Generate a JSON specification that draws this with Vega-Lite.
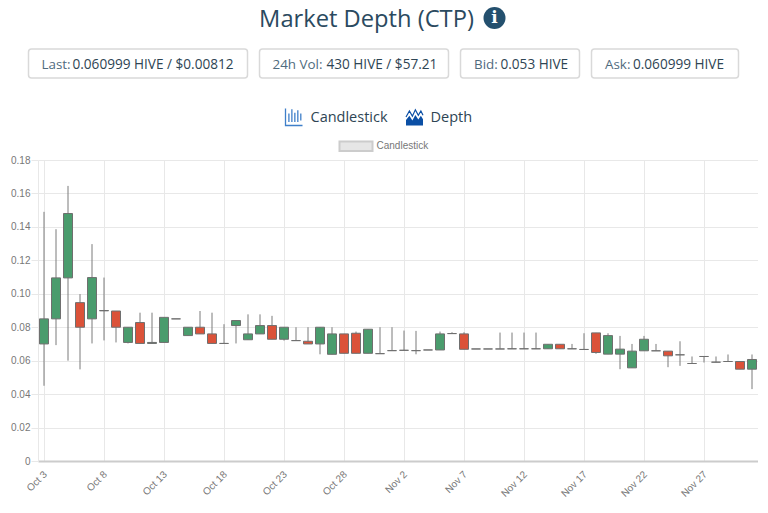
{"$schema":"https://vega.github.io/schema/vega-lite/v6.json","padding":0,"background":"white","spacing":0,"config":{"view":{"stroke":null},"concat":{"spacing":0},"font":"Open Sans"},"vconcat":[{"width":720,"height":155,"layer":[
{"data":{"values":[{"t":"Market Depth (CTP)"}]},"mark":{"type":"text","font":"Open Sans","fontSize":23.7,"fill":"#2b4a60","align":"center","baseline":"middle"},"encoding":{"x":{"datum":366,"type":"quantitative","axis":null,"scale":{"domain":[37.5,757.5]}},"y":{"datum":20,"type":"quantitative","axis":null,"scale":{"domain":[155,0]}},"text":{"field":"t"}}},
{"data":{"values":[{"t":"i"}]},"mark":{"type":"point","filled":true,"size":484,"fill":"#24506e","opacity":1},"encoding":{"x":{"datum":494,"type":"quantitative","axis":null,"scale":{"domain":[37.5,757.5]}},"y":{"datum":18,"type":"quantitative","axis":null,"scale":{"domain":[155,0]}}}},
{"data":{"values":[{"t":"i"}]},"mark":{"type":"text","font":"DejaVu Serif","fontWeight":"bold","fontSize":17,"fill":"white","align":"center","baseline":"middle"},"encoding":{"x":{"datum":494,"type":"quantitative","axis":null,"scale":{"domain":[37.5,757.5]}},"y":{"datum":18,"type":"quantitative","axis":null,"scale":{"domain":[155,0]}},"text":{"field":"t"}}},
{"data":{"values":[{"b":"Last"}]},"mark":{"type":"rect","fill":"white","stroke":"#d9d9d9","strokeWidth":1.5,"cornerRadius":3},"encoding":{"x":{"datum":28,"type":"quantitative","axis":null,"scale":{"domain":[37.5,757.5]}},"x2":{"datum":247},"y":{"datum":49,"type":"quantitative","axis":null,"scale":{"domain":[155,0]}},"y2":{"datum":78}}},
{"data":{"values":[{"b":"24h Vol"}]},"mark":{"type":"rect","fill":"white","stroke":"#d9d9d9","strokeWidth":1.5,"cornerRadius":3},"encoding":{"x":{"datum":259,"type":"quantitative","axis":null,"scale":{"domain":[37.5,757.5]}},"x2":{"datum":448},"y":{"datum":49,"type":"quantitative","axis":null,"scale":{"domain":[155,0]}},"y2":{"datum":78}}},
{"data":{"values":[{"b":"Bid"}]},"mark":{"type":"rect","fill":"white","stroke":"#d9d9d9","strokeWidth":1.5,"cornerRadius":3},"encoding":{"x":{"datum":460,"type":"quantitative","axis":null,"scale":{"domain":[37.5,757.5]}},"x2":{"datum":579},"y":{"datum":49,"type":"quantitative","axis":null,"scale":{"domain":[155,0]}},"y2":{"datum":78}}},
{"data":{"values":[{"b":"Ask"}]},"mark":{"type":"rect","fill":"white","stroke":"#d9d9d9","strokeWidth":1.5,"cornerRadius":3},"encoding":{"x":{"datum":591,"type":"quantitative","axis":null,"scale":{"domain":[37.5,757.5]}},"x2":{"datum":738},"y":{"datum":49,"type":"quantitative","axis":null,"scale":{"domain":[155,0]}},"y2":{"datum":78}}},
{"data":{"values":[{"t":"Last:"}]},"mark":{"type":"text","font":"Open Sans","fontSize":13.4,"fill":"#4f6b7e","align":"left","baseline":"middle"},"encoding":{"x":{"datum":41,"type":"quantitative","axis":null,"scale":{"domain":[37.5,757.5]}},"y":{"datum":64.5,"type":"quantitative","axis":null,"scale":{"domain":[155,0]}},"text":{"field":"t"}}},
{"data":{"values":[{"t":"0.060999 HIVE / $0.00812"}]},"mark":{"type":"text","font":"Open Sans","fontSize":13.6,"fill":"#2e4554","align":"left","baseline":"middle"},"encoding":{"x":{"datum":72,"type":"quantitative","axis":null,"scale":{"domain":[37.5,757.5]}},"y":{"datum":64.5,"type":"quantitative","axis":null,"scale":{"domain":[155,0]}},"text":{"field":"t"}}},
{"data":{"values":[{"t":"24h Vol:"}]},"mark":{"type":"text","font":"Open Sans","fontSize":13.4,"fill":"#4f6b7e","align":"left","baseline":"middle"},"encoding":{"x":{"datum":272,"type":"quantitative","axis":null,"scale":{"domain":[37.5,757.5]}},"y":{"datum":64.5,"type":"quantitative","axis":null,"scale":{"domain":[155,0]}},"text":{"field":"t"}}},
{"data":{"values":[{"t":"430 HIVE / $57.21"}]},"mark":{"type":"text","font":"Open Sans","fontSize":13.6,"fill":"#2e4554","align":"left","baseline":"middle"},"encoding":{"x":{"datum":326,"type":"quantitative","axis":null,"scale":{"domain":[37.5,757.5]}},"y":{"datum":64.5,"type":"quantitative","axis":null,"scale":{"domain":[155,0]}},"text":{"field":"t"}}},
{"data":{"values":[{"t":"Bid:"}]},"mark":{"type":"text","font":"Open Sans","fontSize":13.4,"fill":"#4f6b7e","align":"left","baseline":"middle"},"encoding":{"x":{"datum":473.5,"type":"quantitative","axis":null,"scale":{"domain":[37.5,757.5]}},"y":{"datum":64.5,"type":"quantitative","axis":null,"scale":{"domain":[155,0]}},"text":{"field":"t"}}},
{"data":{"values":[{"t":"0.053 HIVE"}]},"mark":{"type":"text","font":"Open Sans","fontSize":13.6,"fill":"#2e4554","align":"left","baseline":"middle"},"encoding":{"x":{"datum":500,"type":"quantitative","axis":null,"scale":{"domain":[37.5,757.5]}},"y":{"datum":64.5,"type":"quantitative","axis":null,"scale":{"domain":[155,0]}},"text":{"field":"t"}}},
{"data":{"values":[{"t":"Ask:"}]},"mark":{"type":"text","font":"Open Sans","fontSize":13.4,"fill":"#4f6b7e","align":"left","baseline":"middle"},"encoding":{"x":{"datum":604.5,"type":"quantitative","axis":null,"scale":{"domain":[37.5,757.5]}},"y":{"datum":64.5,"type":"quantitative","axis":null,"scale":{"domain":[155,0]}},"text":{"field":"t"}}},
{"data":{"values":[{"t":"0.060999 HIVE"}]},"mark":{"type":"text","font":"Open Sans","fontSize":13.6,"fill":"#2e4554","align":"left","baseline":"middle"},"encoding":{"x":{"datum":632.5,"type":"quantitative","axis":null,"scale":{"domain":[37.5,757.5]}},"y":{"datum":64.5,"type":"quantitative","axis":null,"scale":{"domain":[155,0]}},"text":{"field":"t"}}},
{"data":{"values":[{"t":"Candlestick"}]},"mark":{"type":"text","font":"Open Sans","fontSize":14.5,"fill":"#2e4554","align":"left","baseline":"middle"},"encoding":{"x":{"datum":310,"type":"quantitative","axis":null,"scale":{"domain":[37.5,757.5]}},"y":{"datum":118,"type":"quantitative","axis":null,"scale":{"domain":[155,0]}},"text":{"field":"t"}}},
{"data":{"values":[{"t":"Depth"}]},"mark":{"type":"text","font":"Open Sans","fontSize":14.5,"fill":"#2e4554","align":"left","baseline":"middle"},"encoding":{"x":{"datum":430,"type":"quantitative","axis":null,"scale":{"domain":[37.5,757.5]}},"y":{"datum":118,"type":"quantitative","axis":null,"scale":{"domain":[155,0]}},"text":{"field":"t"}}},
{"data":{"values":[{"t":"Candlestick"}]},"mark":{"type":"point","shape":"M-1 -1V1H1M-0.6 -0.4V0.6M-0.25 -0.9V0.6M0.1 -0.5V0.6M0.45 -0.8V0.6M0.8 -0.4V0.4","size":289,"filled":false,"fill":"transparent","stroke":"#3f7fc9","strokeWidth":1.3,"opacity":1},"encoding":{"x":{"datum":293.5,"type":"quantitative","axis":null,"scale":{"domain":[37.5,757.5]}},"y":{"datum":117,"type":"quantitative","axis":null,"scale":{"domain":[155,0]}}}},
{"data":{"values":[{"t":"Depth"}]},"mark":{"type":"point","shape":"M-1 1V0.35L-0.6-0.15L-0.25 0.4L0.1-0.25L0.45 0.3L0.75-0.15L1 0.25V1Z","size":289,"filled":true,"fill":"#0b4fa5","opacity":1},"encoding":{"x":{"datum":414,"type":"quantitative","axis":null,"scale":{"domain":[37.5,757.5]}},"y":{"datum":117,"type":"quantitative","axis":null,"scale":{"domain":[155,0]}}}},
{"data":{"values":[{"t":"Depth"}]},"mark":{"type":"point","shape":"M-1 0L-0.6-0.7L-0.25-0.1L0.1-0.85L0.45-0.2L0.75-0.7L1-0.2","size":289,"filled":false,"fill":"transparent","stroke":"#0b4fa5","strokeWidth":1.2,"opacity":1},"encoding":{"x":{"datum":414,"type":"quantitative","axis":null,"scale":{"domain":[37.5,757.5]}},"y":{"datum":117,"type":"quantitative","axis":null,"scale":{"domain":[155,0]}}}},
{"data":{"values":[{"t":"Candlestick"}]},"mark":{"type":"rect","fill":"#e6e6e6","stroke":"#cccccc","strokeWidth":2},"encoding":{"x":{"datum":339,"type":"quantitative","axis":null,"scale":{"domain":[37.5,757.5]}},"x2":{"datum":372},"y":{"datum":141.5,"type":"quantitative","axis":null,"scale":{"domain":[155,0]}},"y2":{"datum":151}}},
{"data":{"values":[{"t":"Candlestick"}]},"mark":{"type":"text","font":"Liberation Sans","fontSize":10,"fill":"#777777","align":"left","baseline":"middle"},"encoding":{"x":{"datum":376,"type":"quantitative","axis":null,"scale":{"domain":[37.5,757.5]}},"y":{"datum":145.5,"type":"quantitative","axis":null,"scale":{"domain":[155,0]}},"text":{"field":"t"}}}
]},
{"width":720,"height":301,"data":{"values":[
{"day":"Oct 3","dir":"up","open":0.07,"close":0.085,"high":0.149,"low":0.045},
{"day":"Oct 4","dir":"up","open":0.085,"close":0.1095,"high":0.1386,"low":0.0693},
{"day":"Oct 5","dir":"up","open":0.1095,"close":0.148,"high":0.1645,"low":0.06},
{"day":"Oct 6","dir":"down","open":0.0947,"close":0.08,"high":0.0998,"low":0.0548},
{"day":"Oct 7","dir":"up","open":0.085,"close":0.1097,"high":0.1297,"low":0.0703},
{"day":"Oct 8","dir":"flat","open":0.09,"close":0.0898,"high":0.1097,"low":0.0721},
{"day":"Oct 9","dir":"down","open":0.0897,"close":0.08,"high":0.0897,"low":0.0709},
{"day":"Oct 10","dir":"up","open":0.0709,"close":0.08,"high":0.08,"low":0.0703},
{"day":"Oct 11","dir":"down","open":0.0828,"close":0.0703,"high":0.0887,"low":0.0703},
{"day":"Oct 12","dir":"up","open":0.0703,"close":0.0709,"high":0.0887,"low":0.0703},
{"day":"Oct 13","dir":"up","open":0.0709,"close":0.0859,"high":0.0859,"low":0.0709},
{"day":"Oct 14","dir":"flat","open":0.085,"close":0.085,"high":0.085,"low":0.085},
{"day":"Oct 15","dir":"up","open":0.075,"close":0.08,"high":0.08,"low":0.075},
{"day":"Oct 16","dir":"down","open":0.08,"close":0.076,"high":0.0897,"low":0.076},
{"day":"Oct 17","dir":"down","open":0.076,"close":0.0703,"high":0.0887,"low":0.0703},
{"day":"Oct 18","dir":"flat","open":0.0703,"close":0.0703,"high":0.0818,"low":0.0703},
{"day":"Oct 19","dir":"up","open":0.081,"close":0.084,"high":0.084,"low":0.0703},
{"day":"Oct 20","dir":"up","open":0.0725,"close":0.076,"high":0.0877,"low":0.0725},
{"day":"Oct 21","dir":"up","open":0.076,"close":0.081,"high":0.0877,"low":0.076},
{"day":"Oct 22","dir":"down","open":0.081,"close":0.0728,"high":0.0868,"low":0.0728},
{"day":"Oct 23","dir":"up","open":0.0728,"close":0.08,"high":0.08,"low":0.072},
{"day":"Oct 24","dir":"flat","open":0.072,"close":0.072,"high":0.08,"low":0.072},
{"day":"Oct 25","dir":"down","open":0.0716,"close":0.07,"high":0.08,"low":0.07},
{"day":"Oct 26","dir":"up","open":0.07,"close":0.08,"high":0.08,"low":0.0638},
{"day":"Oct 27","dir":"up","open":0.0638,"close":0.076,"high":0.08,"low":0.0638},
{"day":"Oct 28","dir":"down","open":0.076,"close":0.0644,"high":0.076,"low":0.0644},
{"day":"Oct 29","dir":"down","open":0.0764,"close":0.0644,"high":0.0774,"low":0.0644},
{"day":"Oct 30","dir":"up","open":0.0644,"close":0.0788,"high":0.0788,"low":0.0644},
{"day":"Oct 31","dir":"flat","open":0.0642,"close":0.0642,"high":0.08,"low":0.0642},
{"day":"Nov 1","dir":"flat","open":0.066,"close":0.066,"high":0.08,"low":0.066},
{"day":"Nov 2","dir":"flat","open":0.0662,"close":0.0662,"high":0.078,"low":0.0662},
{"day":"Nov 3","dir":"flat","open":0.066,"close":0.066,"high":0.0778,"low":0.0638},
{"day":"Nov 4","dir":"flat","open":0.0664,"close":0.0664,"high":0.0664,"low":0.0664},
{"day":"Nov 5","dir":"up","open":0.0664,"close":0.076,"high":0.0774,"low":0.0664},
{"day":"Nov 6","dir":"flat","open":0.0762,"close":0.0762,"high":0.077,"low":0.0762},
{"day":"Nov 7","dir":"down","open":0.076,"close":0.0668,"high":0.077,"low":0.0668},
{"day":"Nov 8","dir":"flat","open":0.067,"close":0.067,"high":0.067,"low":0.067},
{"day":"Nov 9","dir":"flat","open":0.067,"close":0.067,"high":0.067,"low":0.067},
{"day":"Nov 10","dir":"flat","open":0.067,"close":0.067,"high":0.0768,"low":0.067},
{"day":"Nov 11","dir":"flat","open":0.0671,"close":0.0671,"high":0.0768,"low":0.0671},
{"day":"Nov 12","dir":"flat","open":0.0671,"close":0.0671,"high":0.0768,"low":0.0671},
{"day":"Nov 13","dir":"flat","open":0.0671,"close":0.0671,"high":0.0768,"low":0.0671},
{"day":"Nov 14","dir":"up","open":0.0671,"close":0.0698,"high":0.0698,"low":0.0671},
{"day":"Nov 15","dir":"down","open":0.0698,"close":0.0671,"high":0.0698,"low":0.0671},
{"day":"Nov 16","dir":"flat","open":0.0671,"close":0.0671,"high":0.07,"low":0.0671},
{"day":"Nov 17","dir":"flat","open":0.0667,"close":0.0667,"high":0.0764,"low":0.0667},
{"day":"Nov 18","dir":"down","open":0.0766,"close":0.0649,"high":0.0766,"low":0.0641},
{"day":"Nov 19","dir":"up","open":0.0639,"close":0.075,"high":0.0764,"low":0.0639},
{"day":"Nov 20","dir":"up","open":0.0639,"close":0.0669,"high":0.0748,"low":0.0549},
{"day":"Nov 21","dir":"up","open":0.0557,"close":0.0657,"high":0.07,"low":0.0557},
{"day":"Nov 22","dir":"up","open":0.0659,"close":0.0728,"high":0.0748,"low":0.0659},
{"day":"Nov 23","dir":"flat","open":0.0659,"close":0.0659,"high":0.07,"low":0.0659},
{"day":"Nov 24","dir":"down","open":0.0657,"close":0.0629,"high":0.0657,"low":0.0561},
{"day":"Nov 25","dir":"flat","open":0.0635,"close":0.0635,"high":0.0716,"low":0.0569},
{"day":"Nov 26","dir":"flat","open":0.0583,"close":0.0583,"high":0.0625,"low":0.0583},
{"day":"Nov 27","dir":"flat","open":0.0625,"close":0.0625,"high":0.0625,"low":0.0589},
{"day":"Nov 28","dir":"flat","open":0.0591,"close":0.0591,"high":0.0625,"low":0.0591},
{"day":"Nov 29","dir":"flat","open":0.0595,"close":0.0595,"high":0.0637,"low":0.0595},
{"day":"Nov 30","dir":"down","open":0.0595,"close":0.0549,"high":0.0595,"low":0.0549},
{"day":"Dec 1","dir":"up","open":0.0549,"close":0.0607,"high":0.0637,"low":0.043}
]},"encoding":{"x":{"field":"day","type":"ordinal","sort":null,"title":null,"scale":{"paddingInner":0,"paddingOuter":0},"axis":{"values":["Oct 3","Oct 8","Oct 13","Oct 18","Oct 23","Oct 28","Nov 2","Nov 7","Nov 12","Nov 17","Nov 22","Nov 27"],"labelAngle":-45,"labelFont":"Liberation Sans","labelFontSize":10,"labelColor":"#777777","ticks":false,"labelPadding":8,"labelOffset":-2,"grid":true,"gridColor":"#e8e8e8","domainColor":"#cccccc","domainWidth":2,"labelOverlap":false}}},"layer":[
{"mark":{"type":"rule","color":"#7a7a7a","strokeWidth":1},"encoding":{"y":{"field":"low","type":"quantitative","title":null,"scale":{"domain":[0,0.18],"nice":false},"axis":{"values":[0,0.02,0.04,0.06,0.08,0.1,0.12,0.14,0.16,0.18],"labelOverlap":false,"labelExpr":"datum.value==0?'0':format(datum.value,'.2f')","labelFont":"Liberation Sans","labelFontSize":10,"labelColor":"#777777","tickColor":"#e8e8e8","tickSize":7,"labelPadding":1,"gridColor":"#e8e8e8","domainColor":"#e8e8e8","minExtent":37.5,"maxExtent":37.5}},"y2":{"field":"high"}}},
{"mark":{"type":"bar","size":9,"stroke":"#6f6f6f","strokeWidth":1},"encoding":{"y":{"field":"open","type":"quantitative","title":null,"scale":{"domain":[0,0.18],"nice":false},"axis":{"values":[0,0.02,0.04,0.06,0.08,0.1,0.12,0.14,0.16,0.18],"labelOverlap":false,"labelExpr":"datum.value==0?'0':format(datum.value,'.2f')","labelFont":"Liberation Sans","labelFontSize":10,"labelColor":"#777777","tickColor":"#e8e8e8","tickSize":7,"labelPadding":1,"gridColor":"#e8e8e8","domainColor":"#e8e8e8","minExtent":37.5,"maxExtent":37.5}},"y2":{"field":"close"},"color":{"field":"dir","type":"nominal","legend":null,"scale":{"domain":["up","down","flat"],"range":["#4a9c6d","#db5239","#4a9c6d"]}}}}
]}]}
